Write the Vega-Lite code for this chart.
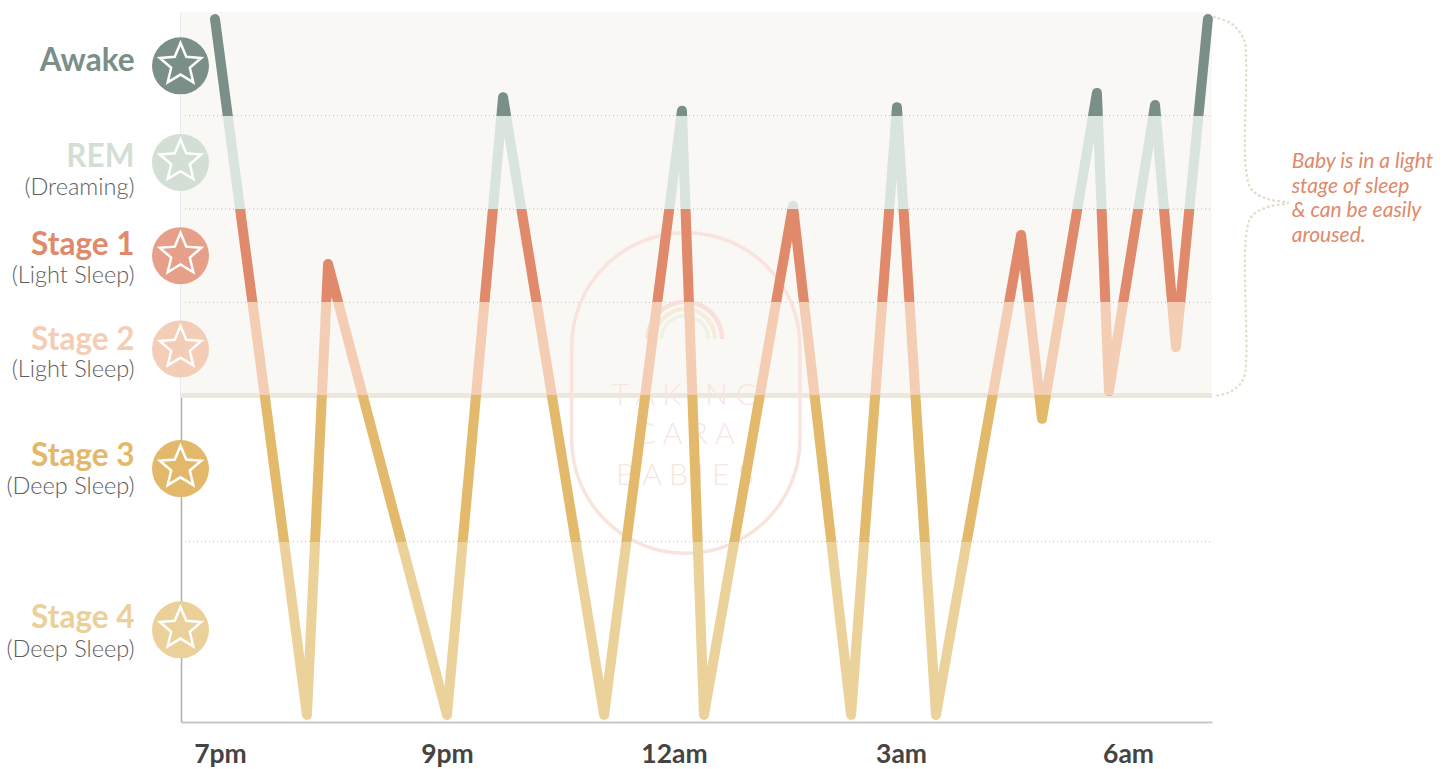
{
  "$schema": "https://vega.github.io/schema/vega-lite/v6.json",
  "width": 1031,
  "height": 710,
  "autosize": {"type": "none"},
  "padding": {"left": 181, "top": 12, "right": 238, "bottom": 47},
  "background": "white",
  "config": {"view": {"stroke": null}, "font": "Lato"},
  "datasets": {
    "sleep": [
      {"t": -0.022, "d": 1.0},
      {"t": 0.383, "d": 99.0},
      {"t": 0.476, "d": 35.5},
      {"t": 1.0, "d": 99.0},
      {"t": 1.247, "d": 12.0},
      {"t": 1.692, "d": 99.0},
      {"t": 2.035, "d": 13.9},
      {"t": 2.132, "d": 99.0},
      {"t": 2.524, "d": 27.3},
      {"t": 2.78, "d": 99.0},
      {"t": 2.982, "d": 13.4},
      {"t": 3.154, "d": 99.0},
      {"t": 3.529, "d": 31.4},
      {"t": 3.621, "d": 57.3},
      {"t": 3.863, "d": 11.4},
      {"t": 3.916, "d": 53.4},
      {"t": 4.119, "d": 13.1},
      {"t": 4.211, "d": 47.2},
      {"t": 4.352, "d": 1.0}
    ],
    "stages": [
      {"stage": "Awake", "sub": "", "top": 0, "bottom": 14.61},
      {"stage": "REM", "sub": "(Dreaming)", "top": 14.61, "bottom": 27.75},
      {"stage": "Stage 1", "sub": "(Light Sleep)", "top": 27.75, "bottom": 40.89},
      {"stage": "Stage 2", "sub": "(Light Sleep)", "top": 40.89, "bottom": 54.01},
      {"stage": "Stage 3", "sub": "(Deep Sleep)", "top": 54.01, "bottom": 74.61},
      {"stage": "Stage 4", "sub": "(Deep Sleep)", "top": 74.61, "bottom": 100}
    ],
    "brace": [
      {"i": 1, "t": 4.379, "d": 0.7},
      {"i": 2, "t": 4.458, "d": 1.69},
      {"i": 3, "t": 4.511, "d": 3.94},
      {"i": 4, "t": 4.52, "d": 6.76},
      {"i": 5, "t": 4.52, "d": 22.25},
      {"i": 6, "t": 4.546, "d": 25.07},
      {"i": 7, "t": 4.617, "d": 26.34},
      {"i": 8, "t": 4.705, "d": 26.9},
      {"i": 9, "t": 4.617, "d": 27.46},
      {"i": 10, "t": 4.546, "d": 28.73},
      {"i": 11, "t": 4.52, "d": 31.55},
      {"i": 12, "t": 4.52, "d": 49.01},
      {"i": 13, "t": 4.507, "d": 51.83},
      {"i": 14, "t": 4.449, "d": 53.52},
      {"i": 15, "t": 4.379, "d": 54.08}
    ]
  },
  "layer": [
    {
      "data": {"values": [{}]},
      "mark": {"type": "rect", "color": "#faf8f4"},
      "encoding": {
        "x": {
          "datum": -0.1718, "type": "quantitative",
          "scale": {"domain": [-0.1718, 4.37], "nice": false, "zero": false},
          "axis": {
            "values": [0, 1, 2, 3, 4],
            "labelExpr": "['7pm','9pm','12am','3am','6am'][datum.value]",
            "title": null, "grid": false, "ticks": false, "tickSize": 0,
            "domainColor": "#c9c9c9", "domainWidth": 2,
            "labelFont": "Lato", "labelFontWeight": "bold", "labelFontSize": 26.5, "labelColor": "#444444",
            "labelBaseline": "alphabetic", "labelPadding": 40, "labelFlush": false
          }
        },
        "x2": {"datum": 4.37},
        "y": {
          "datum": 0, "type": "quantitative",
          "scale": {"domain": [0, 100], "reverse": true, "nice": false, "zero": false},
          "axis": {"labels": false, "ticks": false, "grid": false, "title": null, "domainColor": "#b0b0b0", "domainWidth": 1.5}
        },
        "y2": {"datum": 54.01}
      }
    },
    {
      "data": {"name": "stages"},
      "transform": [{"filter": "datum.stage != 'Stage 2' && datum.stage != 'Stage 4'"}],
      "mark": {"type": "rule", "color": "#b8b8b8", "strokeWidth": 1, "strokeDash": [1, 3]},
      "encoding": {
        "x": {"datum": -0.154, "type": "quantitative"},
        "x2": {"datum": 4.37},
        "y": {"field": "bottom", "type": "quantitative"}
      }
    },
    {
      "data": {"values": [{}]},
      "mark": {"type": "rule", "color": "#eee7dc", "strokeWidth": 5},
      "encoding": {
        "x": {"datum": -0.1718, "type": "quantitative"},
        "x2": {"datum": 4.37},
        "y": {"datum": 54.01, "type": "quantitative"}
      }
    },
    {
      "data": {"values": [{}]},
      "mark": {"type": "rect", "filled": false, "stroke": "#f8e4dd", "strokeWidth": 3.5, "cornerRadius": 114},
      "encoding": {
        "x": {"datum": 1.549, "type": "quantitative"},
        "x2": {"datum": 2.555},
        "y": {"datum": 31.08, "type": "quantitative"},
        "y2": {"datum": 76.24}
      }
    },
    {
      "data": {"values": [{}]},
      "mark": {"type": "arc", "theta": -1.5708, "theta2": 1.5708, "radius": 39.5, "radius2": 35, "fill": "#f8e1da"},
      "encoding": {
        "x": {"datum": 2.048, "type": "quantitative"},
        "y": {"datum": 46.06, "type": "quantitative"}
      }
    },
    {
      "data": {"values": [{}]},
      "mark": {"type": "arc", "theta": -1.5708, "theta2": 1.5708, "radius": 32, "radius2": 28, "fill": "#f5ecd9"},
      "encoding": {
        "x": {"datum": 2.048, "type": "quantitative"},
        "y": {"datum": 46.06, "type": "quantitative"}
      }
    },
    {
      "data": {"values": [{}]},
      "mark": {"type": "arc", "theta": -1.5708, "theta2": 1.5708, "radius": 25, "radius2": 21.5, "fill": "#eef1e6"},
      "encoding": {
        "x": {"datum": 2.048, "type": "quantitative"},
        "y": {"datum": 46.06, "type": "quantitative"}
      }
    },
    {
      "data": {"values": [
        {"w": "T A K I N G", "row": 55.35},
        {"w": "C A R A", "row": 60.85},
        {"w": "B A B I E S", "row": 66.62}
      ]},
      "mark": {"type": "text", "align": "center", "baseline": "alphabetic", "fontSize": 30, "fontWeight": 300, "color": "#f9e5df"},
      "encoding": {
        "x": {"datum": 2.048, "type": "quantitative"},
        "y": {"field": "row", "type": "quantitative"},
        "text": {"field": "w"}
      }
    },
    {
      "data": {"name": "sleep"},
      "mark": {
        "type": "line",
        "strokeWidth": 10,
        "strokeCap": "round",
        "strokeJoin": "round",
        "stroke": {
          "gradient": "linear",
          "x1": 0, "y1": 0, "x2": 0, "y2": 1,
          "stops": [
            {"offset": 0, "color": "#7a8f88"},
            {"offset": 0.13888, "color": "#7a8f88"},
            {"offset": 0.13888, "color": "#d9e4dc"},
            {"offset": 0.27296, "color": "#d9e4dc"},
            {"offset": 0.27296, "color": "#e0896b"},
            {"offset": 0.40704, "color": "#e0896b"},
            {"offset": 0.40704, "color": "#f3ceb5"},
            {"offset": 0.54092, "color": "#f3ceb5"},
            {"offset": 0.54092, "color": "#e3b96b"},
            {"offset": 0.75112, "color": "#e3b96b"},
            {"offset": 0.75112, "color": "#ebd19a"},
            {"offset": 1, "color": "#ebd19a"}
          ]
        }
      },
      "encoding": {
        "x": {"field": "t", "type": "quantitative"},
        "y": {"field": "d", "type": "quantitative"}
      }
    },
    {
      "data": {"name": "stages"},
      "transform": [{"calculate": "(datum.top + datum.bottom) / 2", "as": "mid"}],
      "mark": {"type": "point", "shape": "circle", "filled": true, "size": 3249, "opacity": 1,
        "yOffset": {"expr": "datum.stage == 'Awake' ? 2 : datum.stage == 'Stage 4' ? -2 : 0"}},
      "encoding": {
        "x": {"datum": -0.174, "type": "quantitative"},
        "y": {"field": "mid", "type": "quantitative"},
        "fill": {
          "field": "stage", "type": "nominal", "legend": null,
          "scale": {"domain": ["Awake", "REM", "Stage 1", "Stage 2", "Stage 3", "Stage 4"], "range": ["#7a8f88", "#d3dfd5", "#e6a08a", "#f3cdb5", "#e3b86b", "#ebd09a"]}
        }
      }
    },
    {
      "data": {"name": "stages"},
      "transform": [{"calculate": "(datum.top + datum.bottom) / 2", "as": "mid"}],
      "mark": {"type": "point", "shape": "M0,-1.05L0.2645,-0.4141L0.9511,-0.359L0.428,0.0891L0.5878,0.759L0,0.4L-0.5878,0.759L-0.428,0.0891L-0.9511,-0.359L-0.2645,-0.4141Z", "filled": false, "stroke": "white", "strokeWidth": 2.5, "strokeJoin": "miter", "size": 1900, "opacity": 1,
        "yOffset": {"expr": "datum.stage == 'Awake' ? 2 : datum.stage == 'Stage 4' ? -2 : 0"}},
      "encoding": {
        "x": {"datum": -0.174, "type": "quantitative"},
        "y": {"field": "mid", "type": "quantitative"}
      }
    },
    {
      "data": {"name": "stages"},
      "transform": [{"calculate": "(datum.top + datum.bottom) / 2", "as": "mid"}],
      "mark": {"type": "text", "align": "right", "baseline": "alphabetic", "fontSize": 31.5, "fontWeight": "bold",
        "yOffset": {"expr": "({'Awake': 6.8, 'REM': 4.3, 'Stage 1': -0.7, 'Stage 2': 1.1, 'Stage 3': -2.9, 'Stage 4': -3.6})[datum.stage]"}},
      "encoding": {
        "x": {"datum": -0.3767, "type": "quantitative"},
        "y": {"field": "mid", "type": "quantitative"},
        "text": {"field": "stage"},
        "color": {
          "field": "stage", "type": "nominal", "legend": null,
          "scale": {"domain": ["Awake", "REM", "Stage 1", "Stage 2", "Stage 3", "Stage 4"], "range": ["#7a8f88", "#d3dfd5", "#e0896b", "#f3ceb5", "#e3b86b", "#ebd09a"]}
        }
      }
    },
    {
      "data": {"name": "stages"},
      "transform": [{"calculate": "(datum.top + datum.bottom) / 2", "as": "mid"}],
      "mark": {"type": "text", "align": "right", "baseline": "alphabetic", "fontSize": 23.5, "fontWeight": 300, "color": "#5e5e5e",
        "yOffset": {"expr": "({'Awake': 35, 'REM': 32.6, 'Stage 1': 27.6, 'Stage 2': 27.8, 'Stage 3': 25.4, 'Stage 4': 24.8})[datum.stage]"}},
      "encoding": {
        "x": {"datum": -0.3767, "type": "quantitative"},
        "y": {"field": "mid", "type": "quantitative"},
        "text": {"field": "sub"}
      }
    },
    {
      "data": {"name": "brace"},
      "mark": {"type": "line", "interpolate": "catmull-rom", "clip": false, "color": "#e4ddc8", "strokeWidth": 2.5, "strokeCap": "round", "strokeDash": [0.5, 4.5]},
      "encoding": {
        "x": {"field": "t", "type": "quantitative"},
        "y": {"field": "d", "type": "quantitative"},
        "order": {"field": "i"}
      }
    },
    {
      "data": {"values": [{}]},
      "mark": {"type": "text", "align": "left", "baseline": "alphabetic", "fontSize": 21, "fontStyle": "italic", "color": "#e0896b", "lineHeight": 24.5,
        "text": ["Baby is in a light", "stage of sleep", "& can be easily", "aroused."]},
      "encoding": {
        "x": {"datum": 4.721, "type": "quantitative"},
        "y": {"datum": 22.01, "type": "quantitative"}
      }
    }
  ]
}
